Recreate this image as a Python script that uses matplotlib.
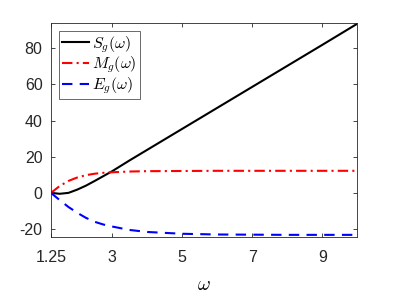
import matplotlib
matplotlib.use("Agg")
import matplotlib.pyplot as plt
import numpy as np

plt.rcParams['font.family'] = ['Liberation Sans', 'DejaVu Sans']
plt.rcParams['mathtext.fontset'] = 'cm'

omega_S = [1.25, 1.5, 1.75, 2.0, 2.25, 2.5, 2.75, 3.0, 3.5, 4.0, 5.0, 6.0, 7.0, 8.0, 9.0, 10.0]
S_vals = [0.0, -0.5, 0.0, 1.8, 4.0, 6.6, 9.3, 12.0, 18.0, 23.8, 35.4, 47.0, 58.6, 70.2, 81.8, 93.5]

omega_M = [1.25, 1.5, 1.75, 2.0, 2.25, 2.5, 2.75, 3.0, 3.5, 4.0, 5.0, 6.0, 7.0, 8.0, 9.0, 10.0]
M_vals = [0.0, 3.8, 6.6, 8.5, 9.8, 10.6, 11.1, 11.4, 11.8, 12.0, 12.1, 12.2, 12.2, 12.2, 12.2, 12.2]

omega_E = [1.25, 1.5, 1.75, 2.0, 2.25, 2.5, 2.75, 3.0, 3.5, 4.0, 5.0, 6.0, 7.0, 8.0, 9.0, 10.0]
E_vals = [0.0, -4.0, -7.8, -11.0, -13.8, -16.0, -17.5, -18.6, -20.5, -21.6, -22.6, -23.0, -23.1, -23.2, -23.2, -23.2]

x_ticks = [1.25, 3, 5, 7, 9]
x_tick_labels = ['1.25', '3', '5', '7', '9']
y_ticks = [-20, 0, 20, 40, 60, 80]

fig = plt.figure(figsize=(3.95, 2.96), dpi=100)
ax = fig.add_axes([0.129, 0.198, 0.7756, 0.725])

ax.plot(omega_S, S_vals, color='black', lw=1.5, ls='-', label=r'$S_g(\omega)$')
ax.plot(omega_M, M_vals, color='red', lw=1.5, ls=(0, (5, 2, 1, 2)), label=r'$M_g(\omega)$')
ax.plot(omega_E, E_vals, color='blue', lw=1.5, ls=(0, (5, 3.5)), label=r'$E_g(\omega)$')

ax.set_xlim(1.25, 10)
ax.set_ylim(-24.6, 94)
ax.set_xticks(x_ticks)
ax.set_xticklabels(x_tick_labels)
ax.set_yticks(y_ticks)
ax.set_yticklabels([str(v) for v in y_ticks])

spine_c = '#262626'
for s in ax.spines.values():
    s.set_color(spine_c)
    s.set_linewidth(0.6)
ax.tick_params(direction='in', top=True, right=True, length=3, width=0.6,
               colors=spine_c, labelsize=11.5)
ax.tick_params(axis='x', pad=9)
ax.tick_params(axis='y', pad=6)
ax.set_xlabel(r'$\omega$', fontsize=14, labelpad=9)

leg = ax.legend(loc='upper left', fontsize=11.5, frameon=True, fancybox=False,
                edgecolor=spine_c, borderpad=0.2, handlelength=1.7,
                handletextpad=0.2, labelspacing=0.0, borderaxespad=0.5)
leg.get_frame().set_linewidth(0.6)

fig.savefig('out.png', dpi=100)
